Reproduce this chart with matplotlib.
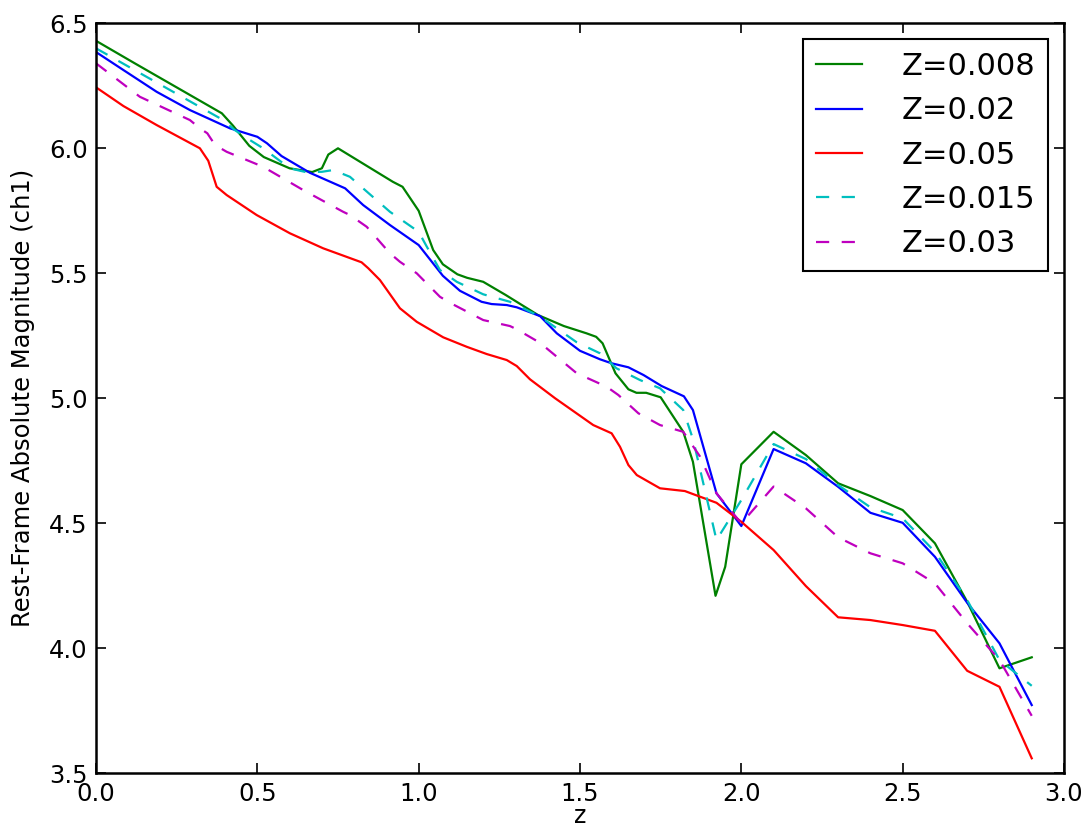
import matplotlib
matplotlib.use("Agg")
import matplotlib.pyplot as plt

plt.rcParams['font.family'] = ['DejaVu Sans']
plt.rcParams['lines.scale_dashes'] = False

labels = ["Z=0.008", "Z=0.02", "Z=0.05", "Z=0.015", "Z=0.03"]

x_z008 = [0.0, 0.12, 0.39, 0.425, 0.475, 0.52, 0.6, 0.67, 0.7, 0.72, 0.75, 0.92, 0.95, 1.0, 1.045,
          1.075, 1.12, 1.15, 1.2, 1.27, 1.37, 1.45, 1.52, 1.55, 1.57, 1.61, 1.65, 1.675, 1.705,
          1.75, 1.82, 1.85, 1.92, 1.95, 2.0, 2.1, 2.2, 2.3, 2.4, 2.5, 2.6, 2.7, 2.8, 2.9]
y_z008 = [6.43, 6.34, 6.14, 6.09, 6.01, 5.965, 5.92, 5.905, 5.92, 5.975, 6.0, 5.866, 5.846, 5.75,
          5.593, 5.536, 5.496, 5.482, 5.466, 5.413, 5.333, 5.289, 5.26, 5.246, 5.22, 5.1, 5.036,
          5.022, 5.022, 5.004, 4.866, 4.746, 4.21, 4.326, 4.736, 4.866, 4.773, 4.66, 4.609,
          4.553, 4.42, 4.186, 3.92, 3.964]

x_z02 = [0.0, 0.085, 0.188, 0.291, 0.415, 0.5, 0.53, 0.575, 0.663, 0.772, 0.828, 0.911, 1.0,
         1.075, 1.128, 1.195, 1.226, 1.273, 1.304, 1.376, 1.428, 1.5, 1.562, 1.598, 1.65, 1.697,
         1.753, 1.822, 1.85, 1.923, 2.0, 2.1, 2.2, 2.3, 2.4, 2.5, 2.6, 2.7, 2.8, 2.9]
y_z02 = [6.385, 6.313, 6.226, 6.153, 6.08, 6.046, 6.02, 5.969, 5.902, 5.84, 5.773, 5.693, 5.613,
         5.49, 5.43, 5.386, 5.377, 5.373, 5.364, 5.329, 5.26, 5.19, 5.156, 5.14, 5.124, 5.093,
         5.049, 5.008, 4.953, 4.62, 4.489, 4.797, 4.74, 4.646, 4.542, 4.502, 4.366, 4.182, 4.02,
         3.773]

x_z05 = [0.0, 0.085, 0.188, 0.322, 0.348, 0.374, 0.405, 0.498, 0.601, 0.704, 0.823, 0.844, 0.88,
         0.942, 0.994, 1.076, 1.149, 1.211, 1.273, 1.304, 1.345, 1.423, 1.541, 1.598, 1.624,
         1.65, 1.676, 1.748, 1.825, 1.923, 2.0, 2.1, 2.2, 2.3, 2.4, 2.5, 2.6, 2.7, 2.8, 2.9]
y_z05 = [6.244, 6.169, 6.093, 6.0, 5.95, 5.846, 5.813, 5.733, 5.66, 5.6, 5.544, 5.52, 5.473,
         5.36, 5.306, 5.244, 5.206, 5.177, 5.153, 5.129, 5.076, 5.0, 4.893, 4.86, 4.806, 4.733,
         4.693, 4.64, 4.629, 4.582, 4.506, 4.393, 4.249, 4.124, 4.113, 4.093, 4.07, 3.91, 3.846,
         3.56]

x_z015 = [0.0, 0.39, 0.43, 0.477, 0.518, 0.58, 0.6, 0.65, 0.7, 0.735, 0.787, 0.84, 0.911, 1.0,
          1.025, 1.066, 1.118, 1.2, 1.283, 1.376, 1.49, 1.562, 1.613, 1.686, 1.748, 1.82, 1.851,
          1.923, 2.0, 2.1, 2.2, 2.3, 2.4, 2.5, 2.6, 2.7, 2.8, 2.9]
y_z015 = [6.40, 6.116, 6.073, 6.033, 6.0, 5.94, 5.92, 5.905, 5.906, 5.913, 5.886, 5.826, 5.746,
          5.666, 5.607, 5.513, 5.466, 5.416, 5.386, 5.327, 5.224, 5.18, 5.12, 5.073, 5.04, 4.953,
          4.833, 4.433, 4.593, 4.817, 4.757, 4.653, 4.564, 4.52, 4.386, 4.193, 3.953, 3.85]

x_z03 = [0.0, 0.136, 0.291, 0.322, 0.345, 0.369, 0.405, 0.518, 0.642, 0.766, 0.787, 0.839, 0.911,
         0.942, 0.994, 1.066, 1.097, 1.2, 1.283, 1.304, 1.376, 1.49, 1.583, 1.619, 1.681, 1.748,
         1.82, 1.872, 1.923, 2.0, 2.1, 2.2, 2.3, 2.4, 2.5, 2.6, 2.7, 2.8, 2.9]
y_z03 = [6.34, 6.206, 6.113, 6.08, 6.06, 6.013, 5.986, 5.926, 5.833, 5.746, 5.733, 5.686, 5.58,
         5.546, 5.5, 5.406, 5.382, 5.313, 5.289, 5.276, 5.222, 5.1, 5.046, 5.013, 4.94, 4.893,
         4.866, 4.767, 4.62, 4.5, 4.647, 4.56, 4.444, 4.38, 4.34, 4.26, 4.1, 3.953, 3.73]

x_ticks = [0.0, 0.5, 1.0, 1.5, 2.0, 2.5, 3.0]
y_ticks = [3.5, 4.0, 4.5, 5.0, 5.5, 6.0, 6.5]

fig = plt.figure(figsize=(10.89, 8.27), dpi=100)
ax = fig.add_axes([96/1089, 1 - 773.3/827, (1064 - 96)/1089, (773.3 - 23.3)/827])

lw = 1.6
dash = (9.5, 9)
ax.plot(x_z008, y_z008, color='green', lw=lw, label=labels[0])
ax.plot(x_z02, y_z02, color='blue', lw=lw, label=labels[1])
ax.plot(x_z05, y_z05, color='red', lw=lw, label=labels[2])
ax.plot(x_z015, y_z015, color='c', lw=lw, ls='--', dashes=dash, label=labels[3])
ax.plot(x_z03, y_z03, color='m', lw=lw, ls='--', dashes=dash, label=labels[4])

ax.set_xlim(0, 3.0)
ax.set_ylim(3.5, 6.5)
ax.set_xticks(x_ticks)
ax.set_yticks(y_ticks)
ax.set_xticklabels(["%.1f" % v for v in x_ticks])
ax.set_yticklabels(["%.1f" % v for v in y_ticks])
ax.tick_params(direction='in', length=7, width=1.2, top=True, right=True,
               labelsize=17.5, pad=6)
for s in ax.spines.values():
    s.set_linewidth(1.8)

ax.set_xlabel("z", fontsize=17, labelpad=-1)
ax.set_ylabel("Rest-Frame Absolute Magnitude (ch1)", fontsize=17.5, labelpad=10)

leg = ax.legend(loc='upper right', bbox_to_anchor=(0.9838, 0.9787), borderaxespad=0,
                fontsize=22, handlelength=1.5, handletextpad=1.3, labelspacing=0.5,
                borderpad=0.42, fancybox=False, framealpha=1)
leg.get_frame().set_edgecolor('black')
leg.get_frame().set_linewidth(1.5)

fig.savefig("out.png", dpi=100, facecolor='white')
